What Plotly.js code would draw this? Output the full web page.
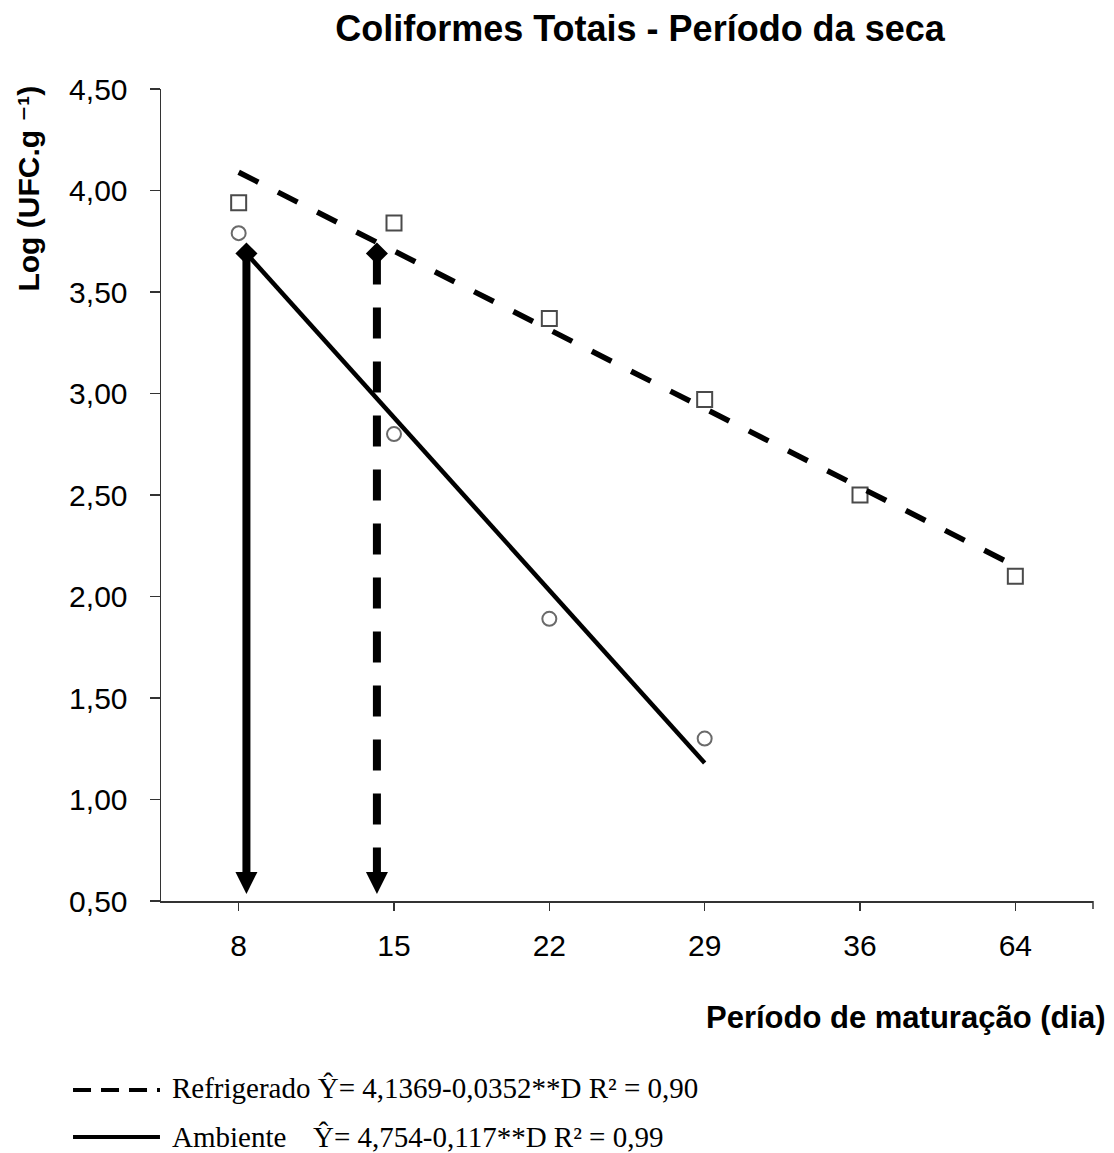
<!DOCTYPE html>
<html>
<head>
<meta charset="utf-8">
<script src="https://cdn.plot.ly/plotly-3.0.1.min.js"></script>
<style>html,body{margin:0;padding:0;background:#fff;}</style>
</head>
<body>
<div id="chart" style="width:1114px;height:1153px;"></div>
<script>
// ---- data ----
const days = ['8', '15', '22', '29', '36', '64'];
const refrigerado = [3.94, 3.84, 3.37, 2.97, 2.50, 2.10];
const ambiente = [3.79, 2.80, 1.89, 1.30];
const refFitX = [0, 5];
const refFitY = [4.09, 2.15];
const ambFitX = [0.05, 3];
const ambFitY = [3.69, 1.18];
const arrowX = [0.05, 0.89];
const arrowTop = [3.69, 3.69];
const arrowBase = [0.64, 0.64];
const arrowTip = [0.535, 0.535];
const yTicks = [0.5, 1.0, 1.5, 2.0, 2.5, 3.0, 3.5, 4.0, 4.5];
const legendLabels = ['Refrigerado', 'Ambiente'];
const legendEquations = ['Ŷ= 4,1369-0,0352**D R² = 0,90', 'Ŷ= 4,754-0,117**D R² = 0,99'];

const SANS = 'Liberation Sans, Arial, DejaVu Sans, sans-serif';
const SERIF = 'Liberation Serif, Times New Roman, serif';
const idx = arr => arr.map((_, i) => i);

const traces = [
  {x: idx(refrigerado), y: refrigerado, mode: 'markers', type: 'scatter',
   marker: {symbol: 'square', size: 15, color: '#ffffff', line: {color: '#4a4a4a', width: 2}}},
  {x: idx(ambiente), y: ambiente, mode: 'markers', type: 'scatter',
   marker: {symbol: 'circle', size: 14, color: '#ffffff', line: {color: '#6a6a6a', width: 2}}},
  {x: refFitX, y: refFitY, mode: 'lines', type: 'scatter',
   line: {color: '#000', width: 5.5, dash: '22px,22px'}},
  {x: ambFitX, y: ambFitY, mode: 'lines', type: 'scatter',
   line: {color: '#000', width: 4.5}},
  {x: [arrowX[0], arrowX[0]], y: [arrowTop[0], arrowBase[0]], mode: 'lines', type: 'scatter',
   line: {color: '#000', width: 8}},
  {x: [arrowX[1], arrowX[1]], y: [arrowTop[1], arrowBase[1]], mode: 'lines', type: 'scatter',
   line: {color: '#000', width: 8, dash: '31px,23px'}},
  {x: arrowX, y: arrowTip, mode: 'markers', type: 'scatter',
   marker: {symbol: 'arrow-down', size: 22, color: '#000', line: {width: 0}}},
  {x: arrowX, y: arrowTop, mode: 'markers', type: 'scatter',
   marker: {symbol: 'diamond', size: 17, color: '#000'}}
];

const annotations = [];
// y axis title
annotations.push({xref: 'paper', yref: 'paper', x: -0.142, y: 0.877, xanchor: 'center', yanchor: 'middle',
  textangle: -90, showarrow: false, text: '<b>Log (UFC.g ⁻¹)</b>',
  font: {family: SANS, size: 30, color: '#000'}});
// x axis title
annotations.push({xref: 'paper', yref: 'paper', x: 1.016, y: -0.144, xanchor: 'right', yanchor: 'middle',
  showarrow: false, text: '<b>Período de maturação (dia)</b>',
  font: {family: SANS, size: 31, color: '#000'}});
// legend texts
const rowY = [-0.2303, -0.2906];
annotations.push({xref: 'paper', yref: 'paper', x: 0.0097, y: rowY[0], xanchor: 'left', yanchor: 'middle',
  showarrow: false, text: legendLabels[0] + ' ' + legendEquations[0], font: {family: SERIF, size: 29, color: '#000'}});
annotations.push({xref: 'paper', yref: 'paper', x: 0.0097, y: rowY[1], xanchor: 'left', yanchor: 'middle',
  showarrow: false, text: legendLabels[1], font: {family: SERIF, size: 29, color: '#000'}});
annotations.push({xref: 'paper', yref: 'paper', x: 0.1605, y: rowY[1], xanchor: 'left', yanchor: 'middle',
  showarrow: false, text: legendEquations[1], font: {family: SERIF, size: 29, color: '#000'}});

const shapes = [
  {type: 'line', xref: 'paper', yref: 'paper', x0: -0.0944, x1: -0.0011, y0: -0.2328, y1: -0.2328,
   line: {color: '#000', width: 4, dash: '18px,10px'}},
  {type: 'line', xref: 'paper', yref: 'paper', x0: -0.0944, x1: -0.0011, y0: -0.2906, y1: -0.2906,
   line: {color: '#000', width: 4}},
  // closing tick at the right end of the x axis
  {type: 'line', xref: 'paper', yref: 'paper', x0: 1, x1: 1, y0: 0, y1: -0.0099,
   line: {color: '#333', width: 1.5}}
];

const layout = {
  width: 1114, height: 1153,
  margin: {l: 161, r: 21, t: 89, b: 252},
  paper_bgcolor: '#fff', plot_bgcolor: '#fff',
  showlegend: false,
  separators: ',.',
  title: {text: '<b>Coliformes Totais - Período da seca</b>', x: 0.5745, xanchor: 'center',
          y: 0.9757, yanchor: 'middle', font: {family: SANS, size: 36, color: '#000'}},
  xaxis: {range: [-0.5, 5.5], tickmode: 'array', tickvals: idx(days), ticktext: days,
          showline: true, linecolor: '#333', linewidth: 1.5, ticks: 'outside', ticklen: 8, tickwidth: 1.5,
          tickcolor: '#333', showgrid: false, zeroline: false, ticklabelstandoff: 9,
          tickfont: {family: SANS, size: 30, color: '#000'}},
  yaxis: {range: [0.5, 4.5], tickmode: 'array', tickvals: yTicks, tickformat: '.2f',
          showline: true, linecolor: '#333', linewidth: 1.5, ticks: 'outside', ticklen: 10, tickwidth: 1.5,
          tickcolor: '#333', showgrid: false, zeroline: false, ticklabelstandoff: 16,
          tickfont: {family: SANS, size: 30, color: '#000'}},
  annotations: annotations,
  shapes: shapes
};

Plotly.newPlot('chart', traces, layout, {displayModeBar: false, staticPlot: true}).then(function () {
  document.querySelectorAll('#chart text').forEach(function (t) {
    if (!t.textContent.replace(/[\s\u200b]/g, '')) t.remove();
  });
});
</script>
</body>
</html>
